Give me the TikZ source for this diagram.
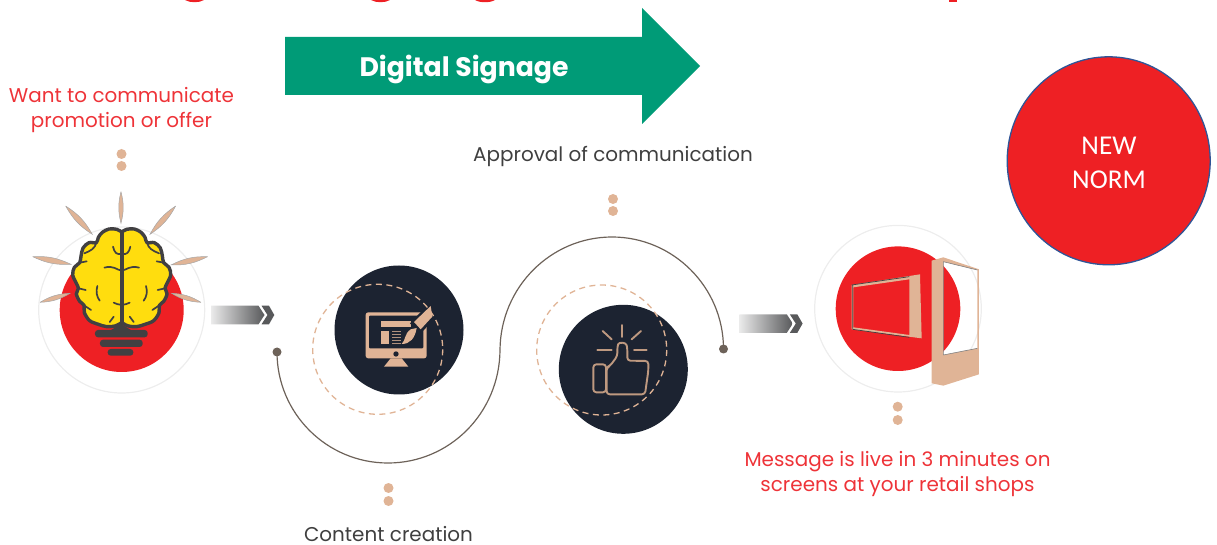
\documentclass[tikz,border=0pt]{standalone}
\usepackage{fontspec}
\setmainfont{Poppins}
\newfontfamily\calfont{Carlito}
\definecolor{redfill}{HTML}{EE2024}
\definecolor{redtxt}{HTML}{EE3338}
\definecolor{tan}{HTML}{E0B496}
\definecolor{navy}{HTML}{1C2331}
\definecolor{ringc}{HTML}{EDEDED}
\definecolor{graytxt}{HTML}{3F3F3F}
\definecolor{swirl}{HTML}{6D6259}
\definecolor{arrowg}{HTML}{009B77}
\definecolor{brainy}{HTML}{FFDD0E}
\definecolor{brainl}{HTML}{414042}
\definecolor{chevd}{HTML}{58595B}
\definecolor{edge}{HTML}{2F5597}
\tikzset{
  redlabel/.style={text=redtxt,align=center,inner sep=0pt,font=\fontsize{20}{26}\selectfont},
  graylabel/.style={text=graytxt,align=center,inner sep=0pt,font=\fontsize{20}{26}\selectfont},
  disc/.style={fill=redfill},
  ring/.style={draw=ringc,line width=1.2bp},
  dashring/.style={draw=tan,line width=1.3bp,dash pattern=on 6bp off 4.5bp},
  navydisc/.style={fill=navy},
  dotmark/.style={fill=tan},
  endmark/.style={circle,fill=swirl,inner sep=0pt,minimum size=9bp},
  sulcus/.style={draw=brainl,line width=1.7bp,line cap=round},
  ray/.style={fill=tan,draw=gray!70,line width=0.5bp},
  zoomed/.style={x=0.33333bp,y=-0.33333bp},
  iconline/.style={draw=tan!85!black,line width=1.9bp,line cap=round,line join=round},
  pics/chevron/.style={code={
    \shade[left color=black!8,right color=chevd,shading angle=90,left color=black!8]
      (0,0) -- (47.5,0) -- (53.5,9.3) -- (47.5,18.6) -- (0,18.6) -- cycle;
    \fill[chevd] (50.5,0) -- (58,0) -- (63.3,9.3) -- (58,18.6) -- (50.5,18.6) -- (56.5,9.3) -- cycle;
  }}
}
\newcommand{\brainhalf}{%
  \fill[brainy,draw=brainl,line width=3.4bp,line join=round]
    plot[smooth,tension=.55] coordinates {(0,36) (15,28) (38,27) (58,37) (70,52) (76,68) (98,68) (116,84) (122,108) (126,128) (142,142) (147,165) (136,190) (130,205) (136,222) (126,244) (113,256) (112,278) (96,302) (70,313) (45,320) (20,318) (0,308)} -- cycle;
  \draw[sulcus] (0,152) .. controls (15,150) and (25,135) .. (52,143);
  \draw[sulcus] (0,102) .. controls (15,105) and (22,98) .. (26,80);
  \draw[sulcus] (0,255) .. controls (10,255) and (18,250) .. (24,248);
  \draw[sulcus] (76,68) .. controls (80,85) and (92,92) .. (112,100);
  \draw[sulcus] (126,128) -- (105,124);
  \draw[sulcus] (73,198) .. controls (78,215) and (75,230) .. (66,242);
  \draw[sulcus] (130,205) -- (108,210);
  \draw[sulcus] (113,256) -- (92,270);
  \draw[sulcus] (24,290) -- (36,306);
}
\begin{document}
\begin{tikzpicture}[x=1bp,y=-1bp]
\useasboundingbox (0,0) rectangle (1217,545);
% clipped title descenders
\fill[redfill] (185,0) .. controls (190,3) and (199,3) .. (204,0) -- cycle;
\fill[redfill] (371,0) .. controls (376,3) and (385,3) .. (390,0) -- cycle;
\fill[redfill] (475,0) .. controls (480,3) and (490,3) .. (495,0) -- cycle;
\fill[redfill] (949,0) rectangle (957,2);
% green arrow
\fill[arrowg] (285,37) -- (642,37) -- (642,8) -- (700,66) -- (642,124) -- (642,95) -- (285,95) -- cycle;
\node (signage) at (464,69) {\fontsize{26.8}{30}\selectfont\bfseries\textcolor{white}{Digital Signage}};
% new norm
\path[fill=redfill,draw=edge,line width=1.3bp] (1108.7,160.8) ellipse[x radius=101.5,y radius=104];
\node (norm) at (1109,163) [text=white,align=center,font=\calfont\fontsize{27.3}{34}\selectfont] {NEW\\NORM};
% labels
\node (want) [redlabel] at (121.5,110) {Want to communicate\\promotion or offer};
\node (approval) [graylabel] at (613,156) {Approval of communication};
\node (content) [graylabel] at (388.5,534) {Content creation};
\node (live) [redlabel] at (897.5,474) {Message is live in 3 minutes on\\screens at your retail shops};
% tan dots
\foreach \px/\py in {121.5/154,121.5/166,613/199,613/211,388.5/488,388.5/501,897.7/406.7,897.7/420}
  \fill[dotmark] (\px,\py) circle[radius=5];
% bulb
\path[ring] (121.7,310) circle[radius=83];
\fill[disc] (121.7,310) circle[radius=62];
\begin{scope}[shift={(0,170)},zoomed]
  \foreach \ax/\ay/\bx/\by in {363/65/363/160,197/108/277/193,527/108/450/193,98/260/213/283,623/260/513/285,120/397/210/370,603/397/515/370}
    \path[ray] (\ax,\ay) to[bend left=14] (\bx,\by) to[bend left=14] (\ax,\ay);
  \fill[brainl] (330,482) -- (363,462) -- (396,482) -- cycle;
  \fill[brainl,rounded corners=3bp] (285,480) rectangle (443,502);
  \fill[brainl,rounded corners=3bp] (300,509) rectangle (428,531);
  \fill[brainl,rounded corners=3bp] (323,537) rectangle (400,557);
\end{scope}
\begin{scope}[shift={(121.7,220)},zoomed]
  \brainhalf
  \begin{scope}[xscale=-1]\brainhalf\end{scope}
  \draw[brainl,line width=3.6bp] (0,30) -- (0,312);
\end{scope}
% chevrons
\pic at (211,305.7) {chevron};
\pic at (739.3,314.3) {chevron};
% swirl
\node (startdot) [endmark] at (277,352) {};
\node (enddot) [endmark] at (723.5,349) {};
\draw[swirl,line width=1.2bp] (startdot.center)
  .. controls (277,413.3) and (326.7,463) .. (388,463)
  .. controls (449.3,463) and (499.5,413.3) .. (500,350)
  .. controls (500.5,287) and (551,237) .. (612,237)
  .. controls (673,237) and (723.5,287) .. (enddot.center);
% content disc
\fill[navydisc] (399,330) circle[radius=64.5];
\begin{scope}[shift={(300,260)},zoomed]
  \fill[tan,rounded corners=2.5bp] (197,157) rectangle (380,295);
  \fill[navy,rounded corners=1bp] (207,167) rectangle (370,265);
  \fill[navy] (288,282) circle[radius=8];
  \fill[tan] (272,295) -- (305,295) -- (325,320) -- (252,320) -- cycle;
  \fill[tan] (242,182) rectangle (332,200);
  \fill[tan] (242,212) rectangle (268,252);
  \foreach \ly in {212,221,230,239,248} \fill[tan!75!navy] (277,\ly) rectangle (304,\ly+4);
  \fill[navy] (385,132) -- (405,175) -- (362,220) -- (330,190) -- cycle;
  \fill[tan] (392,138) -- (397,170) -- (362,208) -- (342,186) -- cycle;
  \fill[tan] (350,204) .. controls (345,235) and (330,252) .. (305,252) .. controls (318,240) and (312,222) .. (332,208) -- cycle;
\end{scope}
\path[dashring] (377.7,349.3) circle[radius=65];
% approval disc
\fill[navydisc] (623.3,369.3) circle[radius=64.5];
\begin{scope}[shift={(530,280)},zoomed]
  \draw[iconline] (275,135) -- (275,171);
  \draw[iconline] (218,153) -- (245,178);
  \draw[iconline] (333,153) -- (305,178);
  \draw[iconline] (202,210) -- (245,210);
  \draw[iconline] (312,210) -- (350,210);
  \draw[iconline,rounded corners=3bp] (228,253) -- (190,253) -- (190,337) -- (228,337) -- cycle;
  \draw[iconline,rounded corners=3bp] (230,262) -- (240,258) -- (262,228) -- (262,202) .. controls (266,186) and (288,186) .. (292,205) -- (292,242) -- (355,243) -- (355,272) -- (345,343) -- (230,343) -- cycle;
\end{scope}
\path[dashring] (601.7,350) circle[radius=65];
% screens
\path[ring] (898,308.7) circle[radius=83.3];
\fill[disc] (898,308.7) circle[radius=62.3];
\begin{scope}[shift={(730,220)},zoomed]
  \fill[tan,even odd rule] (365,195) -- (570,163) -- (575,355) -- (365,328) -- cycle
     (370,202) -- (538,178) -- (538,345) -- (370,322) -- cycle;
  \draw[brainl,line width=0.7bp] (365,195) -- (538,170) (368,328) -- (538,352) (368,196) -- (368,326);
  \fill[tan,even odd rule] (605,122) -- (640,112) -- (747,148) -- (747,463) -- (640,497) -- (605,490) -- cycle
     (640,125) -- (742,150) -- (742,385) -- (640,405) -- cycle;
  \draw[gray,line width=0.6bp] (640,125) -- (742,150) (742,385) -- (640,405) (640,125) -- (640,405);
\end{scope}
\end{tikzpicture}
\end{document}
